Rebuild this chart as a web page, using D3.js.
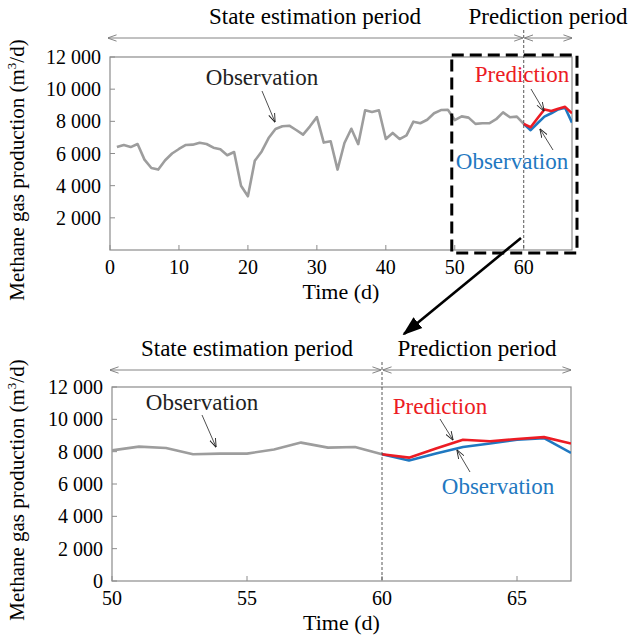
<!DOCTYPE html>
<html><head><meta charset="utf-8">
<script src="https://cdn.jsdelivr.net/npm/d3@7"></script>
<style>
body{margin:0;background:#fff;}
text{font-family:"Liberation Serif","Times New Roman",serif;}
</style></head>
<body><svg id="c" width="629" height="635"></svg>
<script>
// ---- data ----
const obsDays = [1,2,3,4,5,6,7,8,9,10,11,12,13,14,15,16,17,18,19,20,21,22,23,24,25,26,27,28,29,30,31,32,33,34,35,36,37,38,39,40,41,42,43,44,45,46,47,48,49,50,51,52,53,54,55,56,57,58,59,60];
const obsValues = [6400,6530,6400,6590,5620,5100,5000,5580,6000,6280,6530,6550,6670,6590,6360,6260,5890,6090,4000,3340,5550,6130,6960,7520,7690,7730,7460,7170,7690,8260,6680,6760,5000,6650,7540,6580,8690,8580,8690,6900,7280,6900,7130,7980,7880,8100,8500,8700,8720,8080,8310,8230,7840,7880,7880,8130,8560,8250,8290,7840];
const predDays = [60,61,62,63,64,65,66,67];
const predValues = [7840,7630,8190,8740,8640,8780,8900,8500];
const predObsValues = [7840,7450,7880,8290,8500,8740,8840,7920];
const topXTicks = [0,10,20,30,40,50,60];
const topYTicks = [2000,4000,6000,8000,10000,12000];
const botXTicks = [50,55,60,65];
const botYTicks = [0,2000,4000,6000,8000,10000,12000];
const splitDay = 60;

const GRAY = "#9d9d9d", RED = "#ec1c24", BLUE = "#1f78c1", AX = "#8c8c8c";
const svg = d3.select("#c");
const defs = svg.append("defs");
function chevron(id, color, size){
  defs.append("marker").attr("id",id).attr("viewBox","0 0 10 10").attr("refX",9.5).attr("refY",5)
    .attr("markerWidth",size).attr("markerHeight",size).attr("orient","auto-start-reverse")
    .attr("markerUnits","userSpaceOnUse")
    .append("path").attr("d","M0,1.5 L10,5 L0,8.5").attr("fill","none").attr("stroke",color).attr("stroke-width",1);
}
chevron("chev","#777",9);
chevron("chevk","#222",9);
defs.append("marker").attr("id","bigHead").attr("viewBox","0 0 10 10").attr("refX",9).attr("refY",5)
  .attr("markerWidth",20).attr("markerHeight",20).attr("orient","auto").attr("markerUnits","userSpaceOnUse")
  .append("path").attr("d","M0,1.5 L10,5 L0,8.5 Z").attr("fill","#000");

const fmt = v => d3.format(",")(v).replace(/,/g," ");

function panel(cfg){
  const {x,y,xTicks,yTicks} = cfg;
  const g = svg.append("g");
  const [x0,x1] = x.range(), [y0,y1] = y.range();
  g.append("rect").attr("x",x0).attr("y",y1).attr("width",x1-x0).attr("height",y0-y1)
    .attr("fill","none").attr("stroke",AX).attr("stroke-width",1.2);
  g.selectAll(".xt").data(xTicks).join("line").attr("x1",d=>x(d)).attr("x2",d=>x(d))
    .attr("y1",y0).attr("y2",y0-5).attr("stroke",AX);
  g.selectAll(".yt").data(yTicks).join("line").attr("x1",x0).attr("x2",x0+5)
    .attr("y1",d=>y(d)).attr("y2",d=>y(d)).attr("stroke",AX);
  g.selectAll(".xl").data(xTicks).join("text").attr("x",d=>x(d)).attr("y",y0+24)
    .attr("text-anchor","middle").attr("font-size",20).text(d=>d);
  g.selectAll(".yl").data(yTicks).join("text").attr("x",x0-9).attr("y",d=>y(d)+7)
    .attr("text-anchor","end").attr("font-size",20).text(fmt);
  g.append("text").attr("x",(x0+x1)/2).attr("y",y0+49).attr("text-anchor","middle")
    .attr("font-size",22).text("Time (d)");
  const yl = g.append("text").attr("transform",`translate(${cfg.ylabX},${cfg.ylabY}) rotate(-90)`)
    .attr("text-anchor","middle").attr("font-size",21);
  yl.append("tspan").text("Methane gas production (m");
  yl.append("tspan").attr("font-size",13).attr("dy",-8).text("3");
  yl.append("tspan").attr("dy",8).text("/d)");

  const line = d3.line().x(d=>x(d[0])).y(d=>y(d[1]));
  const clipId = cfg.id+"clip";
  defs.append("clipPath").attr("id",clipId).append("rect").attr("x",x0).attr("y",y1-5).attr("width",x1-x0).attr("height",y0-y1+10);
  const lg = g.append("g").attr("clip-path",`url(#${clipId})`);
  lg.append("path").attr("d",line(d3.zip(obsDays,obsValues))).attr("fill","none")
    .attr("stroke",GRAY).attr("stroke-width",2.6).attr("stroke-linejoin","round");
  lg.append("path").attr("d",line(d3.zip(predDays,predObsValues))).attr("fill","none")
    .attr("stroke",BLUE).attr("stroke-width",2.6).attr("stroke-linejoin","round");
  lg.append("path").attr("d",line(d3.zip(predDays,predValues))).attr("fill","none")
    .attr("stroke",RED).attr("stroke-width",2.6).attr("stroke-linejoin","round");

  g.append("line").attr("x1",x(splitDay)).attr("x2",x(splitDay)).attr("y1",cfg.arrowY-8).attr("y2",y0)
    .attr("stroke","#444").attr("stroke-width",0.9).attr("stroke-dasharray","3,2");
  g.append("line").attr("x1",x0-2).attr("x2",x(splitDay)-1).attr("y1",cfg.arrowY).attr("y2",cfg.arrowY)
    .attr("stroke","#777").attr("stroke-width",0.9)
    .attr("marker-start","url(#chev)").attr("marker-end","url(#chev)");
  g.append("line").attr("x1",x(splitDay)+1).attr("x2",x1).attr("y1",cfg.arrowY).attr("y2",cfg.arrowY)
    .attr("stroke","#777").attr("stroke-width",0.9)
    .attr("marker-start","url(#chev)").attr("marker-end","url(#chev)");
  g.append("text").attr("x",cfg.stateX).attr("y",cfg.arrowY-14).attr("text-anchor","middle")
    .attr("font-size",23).text("State estimation period");
  g.append("text").attr("x",cfg.predX).attr("y",cfg.arrowY-14).attr("text-anchor","middle")
    .attr("font-size",23).text("Prediction period");

  cfg.notes.forEach(n=>{
    g.append("text").attr("x",n.tx).attr("y",n.ty).attr("text-anchor","middle")
      .attr("font-size",23).attr("fill",n.color).text(n.text);
    g.append("line").attr("x1",n.a[0]).attr("y1",n.a[1]).attr("x2",n.a[2]).attr("y2",n.a[3])
      .attr("stroke","#222").attr("stroke-width",0.8).attr("marker-end","url(#chevk)");
  });
  return g;
}

const xTop = d3.scaleLinear().domain([0,67]).range([110,572]);
const yTop = d3.scaleLinear().domain([0,12000]).range([250,57]);
const xBot = d3.scaleLinear().domain([50,67]).range([112,571]);
const yBot = d3.scaleLinear().domain([0,12000]).range([581,387]);

panel({id:"top",x:xTop,y:yTop,xTicks:topXTicks,yTicks:topYTicks,ylabX:24,ylabY:170,arrowY:38,
  stateX:315,predX:548,
  notes:[
    {text:"Observation",color:"#222",tx:262,ty:85,a:[262,91,275,122]},
    {text:"Prediction",color:RED,tx:522,ty:82,a:[531,89,544,111]},
    {text:"Observation",color:BLUE,tx:512,ty:169,a:[553,150,540,129]}
  ]});
panel({id:"bot",x:xBot,y:yBot,xTicks:botXTicks,yTicks:botYTicks,ylabX:24,ylabY:490,arrowY:370,
  stateX:247,predX:477,
  notes:[
    {text:"Observation",color:"#222",tx:202,ty:410,a:[202,415,216,447]},
    {text:"Prediction",color:RED,tx:440,ty:414,a:[440,419,453,440]},
    {text:"Observation",color:BLUE,tx:498,ty:494,a:[470,472,457,450]}
  ]});

svg.append("rect").attr("x",xTop(50)-3).attr("y",yTop(12000)-2).attr("width",xTop(67)-xTop(50)+8)
  .attr("height",yTop(0)-yTop(12000)+5).attr("fill","none").attr("stroke","#000")
  .attr("stroke-width",3).attr("stroke-dasharray","12,6");
svg.append("line").attr("x1",521).attr("y1",238).attr("x2",404).attr("y2",334)
  .attr("stroke","#000").attr("stroke-width",2.6).attr("marker-end","url(#bigHead)");
</script></body></html>
